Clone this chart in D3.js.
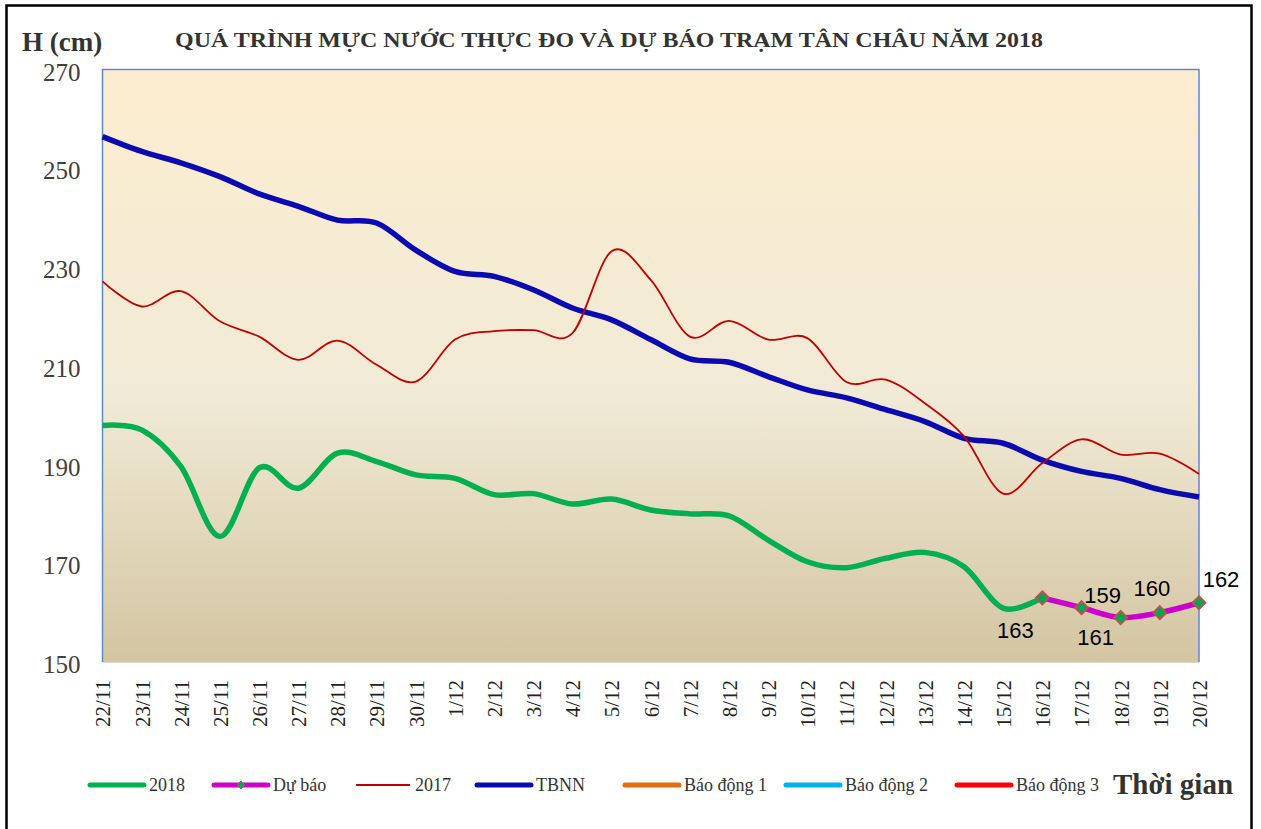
<!DOCTYPE html>
<html><head><meta charset="utf-8">
<script src="https://cdn.jsdelivr.net/npm/d3@7/dist/d3.min.js"></script>
<style>html,body{margin:0;padding:0;background:#fff}svg{display:block}</style>
</head><body>
<svg id="c" width="1261" height="829"></svg>
<script>
const dates = ["22/11","23/11","24/11","25/11","26/11","27/11","28/11","29/11","30/11","1/12","2/12","3/12","4/12","5/12","6/12","7/12","8/12","9/12","10/12","11/12","12/12","13/12","14/12","15/12","16/12","17/12","18/12","19/12","20/12"];
const s2018 = [197.9,197.0,189.6,175.4,189.3,185.2,192.3,190.6,187.9,187.2,183.9,184.1,182.0,183.0,180.8,180.0,179.6,174.7,170.3,169.1,171.0,172.2,169.3,160.9,163.1];
const forecastDates = ["16/12","17/12","18/12","19/12","20/12"];
const forecast = [163,161,159,160,162];
const s2017 = [227.1,222.0,225.1,219.0,215.9,211.2,215.1,210.2,206.8,215.3,217.0,217.2,216.6,233.2,227.4,215.9,219.1,215.3,215.6,206.7,207.2,202.4,195.7,184.1,190.3,195.1,192.0,192.2,188.1];
const tbnn = [256.4,253.4,251.1,248.3,244.8,242.3,239.5,238.9,233.4,229.1,228.1,225.4,221.7,219.3,215.3,211.4,210.7,207.8,205.1,203.5,201.1,198.7,195.3,194.3,190.9,188.6,187.2,184.9,183.4];
const bd1 = dates.map(() => 350);
const bd2 = dates.map(() => 400);
const bd3 = dates.map(() => 450);
const yTicks = [150,170,190,210,230,250,270];
const title = "QUÁ TRÌNH MỰC NƯỚC THỰC ĐO VÀ DỰ BÁO TRẠM TÂN CHÂU NĂM 2018";
const legendItems = [
  {name:"2018", color:"#00B050", w:5, x:90},
  {name:"Dự báo", color:"#CC00CC", w:5, x:214, marker:true},
  {name:"2017", color:"#C00000", w:2, x:356},
  {name:"TBNN", color:"#0A0AB0", w:5, x:477},
  {name:"Báo động 1", color:"#E46C0A", w:5, x:625},
  {name:"Báo động 2", color:"#00B0F0", w:5, x:786},
  {name:"Báo động 3", color:"#FF0000", w:5, x:957}
];

const svg = d3.select("#c");
const L = 102.5, R = 1199, T = 69.5, B = 662;
const x = d3.scalePoint().domain(dates).range([L, R]);
const y = d3.scaleLinear().domain([150, 270]).range([B, T]);

// outer frame
svg.append("rect").attr("x",6.5).attr("y",5.5).attr("width",1245).attr("height",830)
  .attr("fill","none").attr("stroke","#000").attr("stroke-width",2.5);

const defs = svg.append("defs");
const g = defs.append("linearGradient").attr("id","bg").attr("x1",0).attr("y1",0).attr("x2",0).attr("y2",1);
g.append("stop").attr("offset","0%").attr("stop-color","#FCEDCF");
g.append("stop").attr("offset","55%").attr("stop-color","#F1EAD6");
g.append("stop").attr("offset","100%").attr("stop-color","#D3C5A1");
defs.append("clipPath").attr("id","clip").append("rect").attr("x",L).attr("y",T).attr("width",R-L).attr("height",B-T);

svg.append("rect").attr("x",L).attr("y",T).attr("width",R-L).attr("height",B-T).attr("fill","url(#bg)");
svg.append("line").attr("x1",L).attr("x2",R).attr("y1",B+0.5).attr("y2",B+0.5).attr("stroke","#D9D9D9").attr("stroke-width",1);
svg.append("path").attr("d",`M${L},${B}V${T}H${R}V${B}`).attr("fill","none").attr("stroke","#5B8BCA").attr("stroke-width",1.5);

// y axis labels
const ya = svg.append("g").attr("transform",`translate(${L},0)`)
  .call(d3.axisLeft(y).tickValues(yTicks).tickSize(0).tickPadding(22).tickFormat(d3.format("d")));
ya.select(".domain").remove();
ya.selectAll("text").attr("font-family","'Liberation Serif','Times New Roman',serif").attr("font-size",25).attr("fill","#404040").attr("dy","0.42em");

// x axis labels
const xa = svg.append("g").attr("transform",`translate(0,${B})`).call(d3.axisBottom(x).tickSize(0));
xa.select(".domain").remove();
xa.selectAll("text").attr("font-family","'Liberation Serif','Times New Roman',serif").attr("font-size",21).attr("fill","#222")
  .attr("text-anchor","end").attr("transform","rotate(-90)").attr("x",-18).attr("y",0).attr("dy","0.35em");

const curve = d3.curveCardinal.tension(0);
const plot = svg.append("g").attr("clip-path","url(#clip)");
const line = d3.line().x((d,i)=>x(dates[i])).y(d=>y(d)).curve(curve);

[[bd1,"#E46C0A"],[bd2,"#00B0F0"],[bd3,"#FF0000"]].forEach(([arr,c]) =>
  plot.append("path").attr("d",line(arr)).attr("fill","none").attr("stroke",c).attr("stroke-width",5));

svg.append("path").attr("d",line(tbnn)).attr("fill","none").attr("stroke","#0A0AB0").attr("stroke-width",5.5).attr("stroke-linejoin","round");
svg.append("path").attr("d",line(s2017)).attr("fill","none").attr("stroke","#C00000").attr("stroke-width",1.8);
svg.append("path").attr("d",line(s2018)).attr("fill","none").attr("stroke","#00B050").attr("stroke-width",5.5).attr("stroke-linejoin","round");
const fline = d3.line().x((d,i)=>x(forecastDates[i])).y(d=>y(d)).curve(curve);
svg.append("path").attr("d",fline(forecast)).attr("fill","none").attr("stroke","#CC00CC").attr("stroke-width",5.5);

const diamond = d3.symbol().type(d3.symbolDiamond2).size(110);
svg.selectAll(".mk").data(forecast).enter().append("path")
  .attr("d",diamond).attr("transform",(d,i)=>`translate(${x(forecastDates[i])},${y(d)})`)
  .attr("fill","#00A651").attr("stroke","#C0504D").attr("stroke-width",1.8);

// data labels (offsets relative to point)
const lblOff = [[-27,33],[14,30],[-18,-22],[-8,-24],[22,-23]];
svg.selectAll(".lb").data(forecast).enter().append("text")
  .attr("x",(d,i)=>x(forecastDates[i])+lblOff[i][0]).attr("y",(d,i)=>y(d)+lblOff[i][1])
  .attr("text-anchor","middle").attr("dominant-baseline","central")
  .attr("font-family","'Liberation Sans',Arial,sans-serif").attr("font-size",22).attr("fill","#000")
  .text(d=>d);

// titles
svg.append("text").attr("x",22).attr("y",51).attr("font-family","'Liberation Serif','Times New Roman',serif")
  .attr("font-weight","bold").attr("font-size",27).attr("fill","#333").text("H (cm)");
svg.append("text").attr("x",609).attr("y",47).attr("text-anchor","middle").attr("font-family","'Liberation Serif','Times New Roman',serif")
  .attr("font-weight","bold").attr("font-size",21).attr("fill","#333").attr("textLength",868).attr("lengthAdjust","spacingAndGlyphs").text(title);

// legend
const ly = 785;
const lg = svg.append("g");
legendItems.forEach(it => {
  lg.append("line").attr("x1",it.x).attr("x2",it.x+54).attr("y1",ly).attr("y2",ly)
    .attr("stroke",it.color).attr("stroke-width",it.w).attr("stroke-linecap",it.w>3?"round":"butt");
  if (it.marker) lg.append("path").attr("d",d3.symbol().type(d3.symbolDiamond2).size(40))
    .attr("transform",`translate(${it.x+27},${ly})`).attr("fill","#00A651").attr("stroke","#C0504D").attr("stroke-width",1);
  lg.append("text").attr("x",it.x+59).attr("y",ly).attr("dy","0.35em")
    .attr("font-family","'Liberation Serif','Times New Roman',serif").attr("font-size",18).attr("fill","#333").text(it.name);
});
svg.append("text").attr("x",1113).attr("y",794).attr("font-family","'Liberation Serif','Times New Roman',serif")
  .attr("font-weight","bold").attr("font-size",29).attr("fill","#333").text("Thời gian");
</script>
</body></html>
